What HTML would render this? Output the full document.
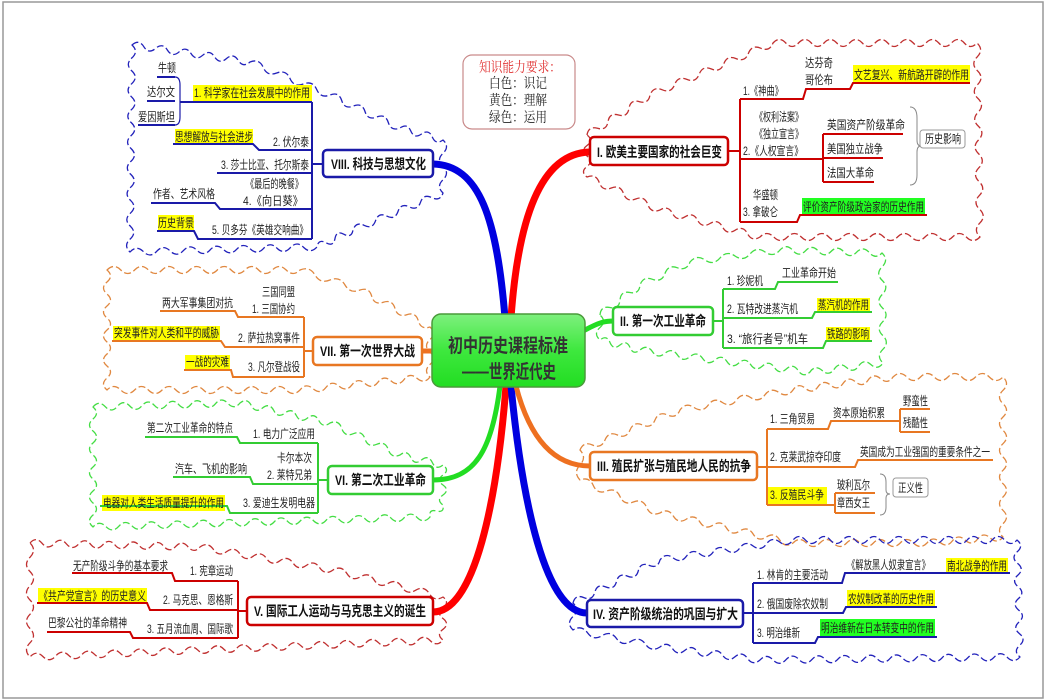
<!DOCTYPE html>
<html><head><meta charset="utf-8">
<style>
html,body{margin:0;padding:0;background:#fff;}
svg{display:block;}
text{font-family:"Liberation Sans","Noto Sans CJK SC",sans-serif;font-size:12px;fill:#222;}
.b{font-weight:bold;font-size:14px;fill:#111;}
.s{font-family:"Liberation Serif","Noto Serif CJK SC",serif;font-size:14px;}
</style></head><body>
<svg id="m" width="1046" height="700" viewBox="0 0 1046 700" xmlns="http://www.w3.org/2000/svg">
<defs>
<linearGradient id="g" x1="0" y1="0" x2="0" y2="1"><stop offset="0" stop-color="#7ef07e"/><stop offset="0.5" stop-color="#3ee83e"/><stop offset="1" stop-color="#22dd22"/></linearGradient>
</defs>
<rect x="3" y="2" width="1040" height="696" fill="#fff" stroke="#999" stroke-width="1.5"/>
<g id="clouds" fill="none" stroke-width="1.3" stroke-dasharray="7,3"></g>

<g fill="none" stroke-linecap="round">
<path d="M505,318 C497,220 480,165 433,164" stroke="#0000e0" stroke-width="7"/>
<path d="M511,318 C518,220 540,153 590,152" stroke="#f00" stroke-width="7"/>
<path d="M585,330 C600,322 605,321 614,321" stroke="#22dd22" stroke-width="5"/>
<path d="M432,351 L422,351" stroke="#ee7020" stroke-width="5"/>
<path d="M500,386 C492,450 475,480 433,480" stroke="#22dd22" stroke-width="5"/>
<path d="M506,386 C497,500 475,612 433,612" stroke="#f00" stroke-width="7"/>
<path d="M511,386 C522,500 545,613 587,613" stroke="#0000e0" stroke-width="7"/>
<path d="M516,386 C530,440 555,466 590,466" stroke="#ee7020" stroke-width="5"/>
</g>

<rect x="432" y="314" width="153" height="73" rx="9" fill="url(#g)" stroke="#4a9a3a" stroke-width="1.5"/>
<text x="448" y="352" style="font-size:19px;font-weight:bold;fill:#333" textLength="120" lengthAdjust="spacingAndGlyphs">初中历史课程标准</text>
<text x="462" y="378" style="font-size:19px;font-weight:bold;fill:#333" textLength="94" lengthAdjust="spacingAndGlyphs">——世界近代史</text>

<rect x="463" y="55" width="112" height="74" rx="9" fill="#fff" stroke="#c98a8a" stroke-width="1.2"/>
<text class="s" x="479" y="72" style="fill:#e03030" textLength="82" lengthAdjust="spacingAndGlyphs">知识能力要求：</text>
<text class="s" x="489" y="88" textLength="58" lengthAdjust="spacingAndGlyphs">白色：识记</text>
<text class="s" x="489" y="105" textLength="58" lengthAdjust="spacingAndGlyphs">黄色：理解</text>
<text class="s" x="489" y="122" textLength="58" lengthAdjust="spacingAndGlyphs">绿色：运用</text>

<g>
<rect x="193" y="85" width="119" height="17" fill="#ffff00"/>
<rect x="175" y="129" width="78" height="15" fill="#ffff00"/>
<rect x="158" y="215" width="36" height="16" fill="#ffff00"/>
<rect x="853" y="65" width="117" height="18" fill="#ffff00"/>
<rect x="802" y="198" width="123" height="17" fill="#22ff22"/>
<rect x="817" y="298" width="53" height="14" fill="#ffff00"/>
<rect x="826" y="327" width="44" height="14" fill="#ffff00"/>
<rect x="767" y="487" width="60" height="18" fill="#ffff00"/>
<rect x="946" y="558" width="62" height="15" fill="#ffff00"/>
<rect x="847" y="590" width="88" height="17" fill="#ffff00"/>
<rect x="820" y="619" width="115" height="18" fill="#22ff22"/>
<rect x="113" y="326" width="107" height="15" fill="#ffff00"/>
<rect x="185" y="355" width="45" height="15" fill="#ffff00"/>
<rect x="102" y="495" width="123" height="16" fill="#ffff00"/>
<rect x="38" y="588" width="109" height="16" fill="#ffff00"/>
</g>

<g fill="none" stroke="#1a1aa8" stroke-width="2">
<path d="M323,164 L312,164 M312,102 L312,239"/>
<path d="M312,102 L180,102 M157,77 L175,77 M147,101 L175,101 M138,125 L175,125"/>
<path d="M175,77 Q180,77 180,85 L180,117 Q180,125 175,125" stroke-width="1.2"/>
<path d="M312,150 L259,150 L253,144 L173,144"/>
<path d="M312,173 L217,173"/>
<path d="M312,209 L220,209 L215,203 L151,203"/>
<path d="M312,239 L198,239 L194,231 L157,231"/>
</g>
<rect x="323" y="150" width="110" height="27" rx="4" fill="#fff" stroke="#1a1aa8" stroke-width="2.5"/>
<text class="b" x="331" y="169" textLength="95" lengthAdjust="spacingAndGlyphs">VIII. 科技与思想文化</text>
<text x="158" y="72" textLength="18" lengthAdjust="spacingAndGlyphs">牛顿</text>
<text x="147" y="96" textLength="28" lengthAdjust="spacingAndGlyphs">达尔文</text>
<text x="138" y="121" textLength="37" lengthAdjust="spacingAndGlyphs">爱因斯坦</text>
<text x="194" y="97" textLength="116" lengthAdjust="spacingAndGlyphs">1. 科学家在社会发展中的作用</text>
<text x="175" y="141" textLength="78" lengthAdjust="spacingAndGlyphs">思想解放与社会进步</text>
<text x="273" y="146" textLength="36" lengthAdjust="spacingAndGlyphs">2. 伏尔泰</text>
<text x="221" y="169" textLength="88" lengthAdjust="spacingAndGlyphs">3. 莎士比亚、托尔斯泰</text>
<text x="246" y="188" textLength="57" lengthAdjust="spacingAndGlyphs">《最后的晚餐》</text>
<text x="243" y="205" textLength="60" lengthAdjust="spacingAndGlyphs">4.《向日葵》</text>
<text x="153" y="198" textLength="62" lengthAdjust="spacingAndGlyphs">作者、艺术风格</text>
<text x="158" y="227" textLength="36" lengthAdjust="spacingAndGlyphs">历史背景</text>
<text x="212" y="234" textLength="96" lengthAdjust="spacingAndGlyphs">5. 贝多芬《英雄交响曲》</text>

<g fill="none" stroke="#c00" stroke-width="2">
<path d="M728,151 L740,151 M740,99 L740,222"/>
<path d="M740,99 L803,99 L806,89 L850,89 L853,83 L970,83"/>
<path d="M740,159 L823,159 M823,134 L823,182 M823,134 L903,134 M823,158 L883,158 M823,182 L874,182"/>
<path d="M740,222 L797,222 L800,215 L927,215"/>
</g>
<path d="M910,107 Q917,107 917,118 L917,140 Q917,146 921,146 Q917,146 917,152 L917,175 Q917,185 910,185" fill="none" stroke="#888" stroke-width="1"/>
<rect x="920" y="130" width="45" height="18" rx="3" fill="#fff" stroke="#999" stroke-width="1"/>
<rect x="590" y="137" width="138" height="28" rx="4" fill="#fff" stroke="#c00" stroke-width="2.5"/>
<text class="b" x="597" y="157" textLength="125" lengthAdjust="spacingAndGlyphs">I. 欧美主要国家的社会巨变</text>
<text x="743" y="95" textLength="40" lengthAdjust="spacingAndGlyphs">1.《神曲》</text>
<text x="805" y="67" textLength="28" lengthAdjust="spacingAndGlyphs">达芬奇</text>
<text x="805" y="84" textLength="28" lengthAdjust="spacingAndGlyphs">哥伦布</text>
<text x="854" y="79" textLength="115" lengthAdjust="spacingAndGlyphs">文艺复兴、新航路开辟的作用</text>
<text x="755" y="121" textLength="48" lengthAdjust="spacingAndGlyphs">《权利法案》</text>
<text x="755" y="138" textLength="48" lengthAdjust="spacingAndGlyphs">《独立宣言》</text>
<text x="743" y="155" textLength="60" lengthAdjust="spacingAndGlyphs">2.《人权宣言》</text>
<text x="827" y="129" textLength="78" lengthAdjust="spacingAndGlyphs">英国资产阶级革命</text>
<text x="827" y="153" textLength="56" lengthAdjust="spacingAndGlyphs">美国独立战争</text>
<text x="827" y="177" textLength="47" lengthAdjust="spacingAndGlyphs">法国大革命</text>
<text x="925" y="143" textLength="36" lengthAdjust="spacingAndGlyphs">历史影响</text>
<text x="753" y="199" textLength="25" lengthAdjust="spacingAndGlyphs">华盛顿</text>
<text x="743" y="216" textLength="35" lengthAdjust="spacingAndGlyphs">3. 拿破仑</text>
<text x="803" y="211" textLength="121" lengthAdjust="spacingAndGlyphs">评价资产阶级政治家的历史作用</text>

<g fill="none" stroke="#33cc33" stroke-width="2">
<path d="M713,321 L723,321 M723,289 L723,348"/>
<path d="M723,289 L775,289 L778,282 L838,282"/>
<path d="M723,318 L812,318 L815,312 L872,312"/>
<path d="M723,348 L823,348 L826,341 L872,341"/>
</g>
<rect x="613" y="307" width="100" height="28" rx="4" fill="#fff" stroke="#33cc33" stroke-width="2.5"/>
<text class="b" x="620" y="326" textLength="86" lengthAdjust="spacingAndGlyphs">II. 第一次工业革命</text>
<text x="727" y="285" textLength="36" lengthAdjust="spacingAndGlyphs">1. 珍妮机</text>
<text x="782" y="277" textLength="54" lengthAdjust="spacingAndGlyphs">工业革命开始</text>
<text x="727" y="313" textLength="71" lengthAdjust="spacingAndGlyphs">2. 瓦特改进蒸汽机</text>
<text x="818" y="309" textLength="51" lengthAdjust="spacingAndGlyphs">蒸汽机的作用</text>
<text x="727" y="343" textLength="81" lengthAdjust="spacingAndGlyphs">3. “旅行者号”机车</text>
<text x="827" y="338" textLength="42" lengthAdjust="spacingAndGlyphs">铁路的影响</text>

<g fill="none" stroke="#e87722" stroke-width="2">
<path d="M757,467 L767,467 M767,429 L767,505"/>
<path d="M767,429 L828,429 L831,421 L900,421 M900,409 L900,432 M900,409 L930,409 M900,432 L930,432"/>
<path d="M767,467 L855,467 L858,460 L993,460"/>
<path d="M767,505 L835,505 M835,493 L835,513 M835,493 L875,493 M835,513 L875,513"/>
</g>
<path d="M880,474 Q886,474 886,482 L886,490 Q886,494 890,494 Q886,494 886,498 L886,507 Q886,515 880,515" fill="none" stroke="#888" stroke-width="1"/>
<rect x="893" y="478" width="35" height="19" rx="3" fill="#fff" stroke="#999" stroke-width="1"/>
<rect x="590" y="452" width="167" height="28" rx="4" fill="#fff" stroke="#e87722" stroke-width="2.5"/>
<text class="b" x="597" y="471" textLength="154" lengthAdjust="spacingAndGlyphs">III. 殖民扩张与殖民地人民的抗争</text>
<text x="770" y="423" textLength="45" lengthAdjust="spacingAndGlyphs">1. 三角贸易</text>
<text x="833" y="417" textLength="52" lengthAdjust="spacingAndGlyphs">资本原始积累</text>
<text x="903" y="405" textLength="25" lengthAdjust="spacingAndGlyphs">野蛮性</text>
<text x="903" y="427" textLength="25" lengthAdjust="spacingAndGlyphs">残酷性</text>
<text x="770" y="461" textLength="71" lengthAdjust="spacingAndGlyphs">2. 克莱武掠夺印度</text>
<text x="860" y="456" textLength="130" lengthAdjust="spacingAndGlyphs">英国成为工业强国的重要条件之一</text>
<text x="770" y="499" textLength="54" lengthAdjust="spacingAndGlyphs">3. 反殖民斗争</text>
<text x="837" y="489" textLength="33" lengthAdjust="spacingAndGlyphs">玻利瓦尔</text>
<text x="837" y="507" textLength="33" lengthAdjust="spacingAndGlyphs">章西女王</text>
<text x="898" y="492" textLength="25" lengthAdjust="spacingAndGlyphs">正义性</text>

<g fill="none" stroke="#1a1aa8" stroke-width="2">
<path d="M743,613 L753,613 M753,583 L753,643"/>
<path d="M753,583 L842,583 L845,573 L1010,573"/>
<path d="M753,613 L843,613 L846,607 L937,607"/>
<path d="M753,643 L815,643 L818,637 L937,637"/>
</g>
<rect x="587" y="600" width="156" height="27" rx="4" fill="#fff" stroke="#1a1aa8" stroke-width="2.5"/>
<text class="b" x="593" y="619" textLength="145" lengthAdjust="spacingAndGlyphs">IV. 资产阶级统治的巩固与扩大</text>
<text x="757" y="579" textLength="71" lengthAdjust="spacingAndGlyphs">1. 林肯的主要活动</text>
<text x="847" y="569" textLength="83" lengthAdjust="spacingAndGlyphs">《解放黑人奴隶宣言》</text>
<text x="947" y="570" textLength="60" lengthAdjust="spacingAndGlyphs">南北战争的作用</text>
<text x="757" y="608" textLength="71" lengthAdjust="spacingAndGlyphs">2. 俄国废除农奴制</text>
<text x="848" y="603" textLength="86" lengthAdjust="spacingAndGlyphs">农奴制改革的历史作用</text>
<text x="757" y="637" textLength="43" lengthAdjust="spacingAndGlyphs">3. 明治维新</text>
<text x="821" y="632" textLength="113" lengthAdjust="spacingAndGlyphs">明治维新在日本转变中的作用</text>

<g fill="none" stroke="#e87722" stroke-width="2">
<path d="M313,351 L304,351 M304,317 L304,377"/>
<path d="M304,317 L238,317 L235,311 L160,311"/>
<path d="M304,347 L225,347 L221,341 L112,341"/>
<path d="M304,377 L233,377 L231,370 L184,370"/>
</g>
<rect x="313" y="337" width="109" height="28" rx="4" fill="#fff" stroke="#e87722" stroke-width="2.5"/>
<text class="b" x="320" y="356" textLength="95" lengthAdjust="spacingAndGlyphs">VII. 第一次世界大战</text>
<text x="262" y="296" textLength="33" lengthAdjust="spacingAndGlyphs">三国同盟</text>
<text x="252" y="313" textLength="43" lengthAdjust="spacingAndGlyphs">1. 三国协约</text>
<text x="162" y="307" textLength="71" lengthAdjust="spacingAndGlyphs">两大军事集团对抗</text>
<text x="238" y="342" textLength="62" lengthAdjust="spacingAndGlyphs">2. 萨拉热窝事件</text>
<text x="114" y="337" textLength="105" lengthAdjust="spacingAndGlyphs">突发事件对人类和平的威胁</text>
<text x="248" y="371" textLength="52" lengthAdjust="spacingAndGlyphs">3. 凡尔登战役</text>
<text x="186" y="366" textLength="43" lengthAdjust="spacingAndGlyphs">一战的灾难</text>

<g fill="none" stroke="#33cc33" stroke-width="2">
<path d="M328,480 L318,480 M318,443 L318,513"/>
<path d="M318,443 L240,443 L237,437 L145,437"/>
<path d="M318,484 L253,484 L250,477 L173,477"/>
<path d="M318,513 L230,513 L227,506 L100,506"/>
</g>
<rect x="328" y="466" width="105" height="28" rx="4" fill="#fff" stroke="#33cc33" stroke-width="2.5"/>
<text class="b" x="335" y="485" textLength="91" lengthAdjust="spacingAndGlyphs">VI. 第二次工业革命</text>
<text x="253" y="438" textLength="62" lengthAdjust="spacingAndGlyphs">1. 电力广泛应用</text>
<text x="147" y="432" textLength="86" lengthAdjust="spacingAndGlyphs">第二次工业革命的特点</text>
<text x="277" y="462" textLength="35" lengthAdjust="spacingAndGlyphs">卡尔本次</text>
<text x="267" y="479" textLength="45" lengthAdjust="spacingAndGlyphs">2. 莱特兄弟</text>
<text x="175" y="473" textLength="72" lengthAdjust="spacingAndGlyphs">汽车、飞机的影响</text>
<text x="243" y="507" textLength="72" lengthAdjust="spacingAndGlyphs">3. 爱迪生发明电器</text>
<text x="103" y="507" textLength="121" lengthAdjust="spacingAndGlyphs">电器对人类生活质量提升的作用</text>

<g fill="none" stroke="#c00" stroke-width="2">
<path d="M247,611 L238,611 M238,581 L238,638"/>
<path d="M238,581 L175,581 L172,573 L72,573"/>
<path d="M238,610 L150,610 L147,603 L37,603"/>
<path d="M238,638 L133,638 L130,632 L47,632"/>
</g>
<rect x="247" y="597" width="186" height="28" rx="4" fill="#fff" stroke="#c00" stroke-width="2.5"/>
<text class="b" x="254" y="616" textLength="172" lengthAdjust="spacingAndGlyphs">V. 国际工人运动与马克思主义的诞生</text>
<text x="190" y="575" textLength="43" lengthAdjust="spacingAndGlyphs">1. 宪章运动</text>
<text x="73" y="570" textLength="95" lengthAdjust="spacingAndGlyphs">无产阶级斗争的基本要求</text>
<text x="163" y="604" textLength="70" lengthAdjust="spacingAndGlyphs">2. 马克思、恩格斯</text>
<text x="39" y="600" textLength="107" lengthAdjust="spacingAndGlyphs">《共产党宣言》的历史意义</text>
<text x="147" y="633" textLength="86" lengthAdjust="spacingAndGlyphs">3. 五月流血周、国际歌</text>
<text x="48" y="627" textLength="79" lengthAdjust="spacingAndGlyphs">巴黎公社的革命精神</text>
</svg>
<script>
(function(){
var C=[
["#2222bb",[[132,45],[250,62],[330,95],[400,128],[443,140],[443,193],[353,230],[317,247],[130,252]]],
["#c03030",[[587,135],[650,95],[773,43],[977,43],[980,237],[760,237],[660,210],[587,177]]],
["#44dd44",[[600,315],[640,285],[690,262],[780,250],[882,253],[883,363],[810,372],[715,360],[640,350],[600,340]]],
["#e08840",[[580,450],[680,410],[793,390],[893,377],[1003,377],[1003,537],[927,543],[793,543],[660,513],[580,480]]],
["#2222bb",[[573,603],[660,560],[793,540],[1017,540],[1020,657],[760,660],[660,647],[573,630]]],
["#e08840",[[107,270],[300,270],[360,290],[430,327],[430,377],[300,390],[107,390]]],
["#44dd44",[[93,407],[240,403],[330,423],[400,455],[443,465],[443,505],[430,517],[93,527]]],
["#c03030",[[30,543],[200,547],[333,570],[443,597],[443,640],[30,657]]]
];
var g=document.getElementById('clouds'),ns='http://www.w3.org/2000/svg';
C.forEach(function(c){
 var p=c[1],d='M'+p[0][0]+','+p[0][1];
 for(var i=0;i<p.length;i++){
  var q=p[i],r=p[(i+1)%p.length];
  var dx=r[0]-q[0],dy=r[1]-q[1],L=Math.sqrt(dx*dx+dy*dy),n=Math.max(1,Math.round(L/26));
  var nx=dy/L,ny=-dx/L;
  for(var k=0;k<n;k++){
   for(var h=0;h<2;h++){
    var t0=(k+h*0.5)/n,t1=(k+h*0.5+0.5)/n,tm=(t0+t1)/2,sg=h?-1:1;
    var mx=q[0]+dx*tm+nx*7*sg,my=q[1]+dy*tm+ny*7*sg;
    var ex=q[0]+dx*t1,ey=q[1]+dy*t1;
    d+=' Q'+mx.toFixed(1)+','+my.toFixed(1)+' '+ex.toFixed(1)+','+ey.toFixed(1);
   }
  }
 }
 var e=document.createElementNS(ns,'path');e.setAttribute('d',d+'Z');e.setAttribute('stroke',c[0]);e.setAttribute('stroke-linejoin','round');g.appendChild(e);
});
})();
</script>
</body></html>
